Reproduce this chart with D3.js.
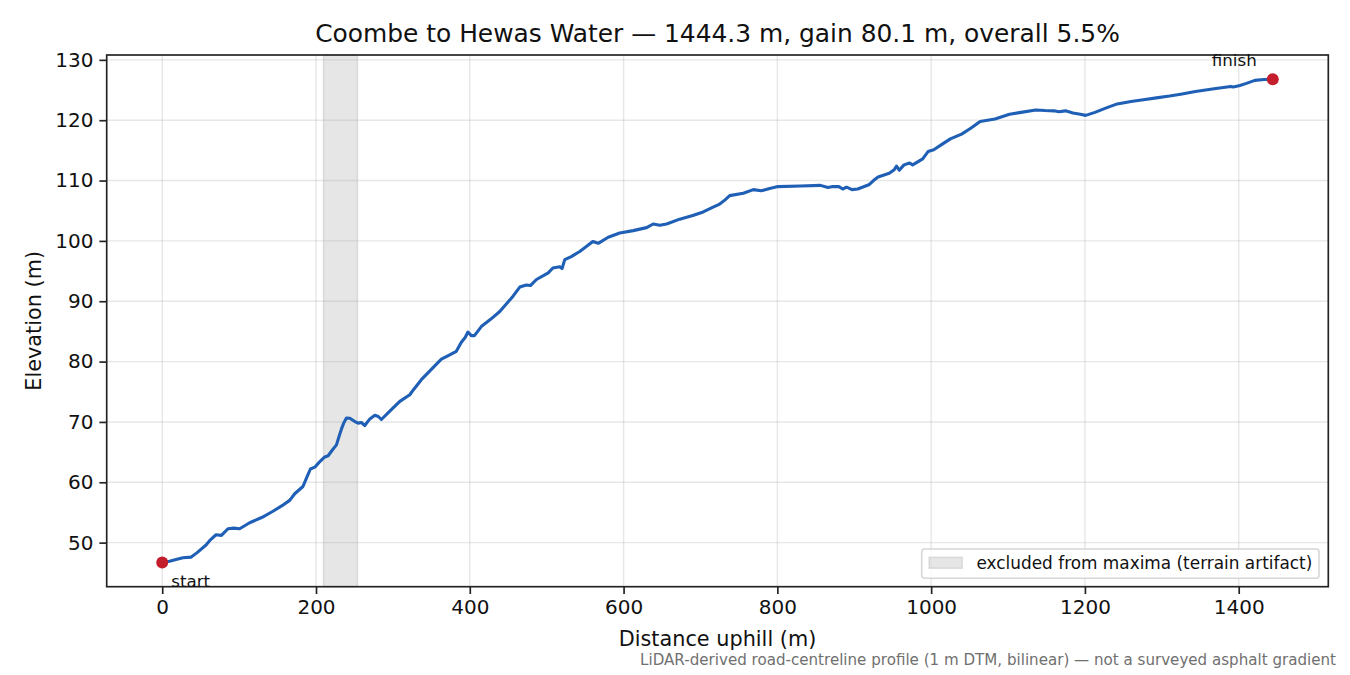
<!DOCTYPE html>
<html>
<head>
<meta charset="utf-8">
<script src="https://cdn.jsdelivr.net/npm/d3@7"></script>
<style>
  html, body { margin: 0; padding: 0; background: #fff; }
  svg { display: block; font-family: "DejaVu Sans", sans-serif; }
</style>
</head>
<body>
<svg id="chart" width="1350" height="675"></svg>
<script>
// ---- data ----
const distance = [0, 9.5, 18, 27, 37.7, 45, 57, 63, 70, 77, 85.5, 93, 100.7, 113.7, 130, 144, 158, 165.8, 172.3, 183, 188, 192.7, 198.4, 204, 211.4, 215.8, 221, 226.6, 230, 233, 236, 239.6, 244, 250, 254.8, 259, 263.5, 267, 270, 276.5, 281, 285, 297, 309, 322, 326.5, 337, 350, 363, 372, 382.5, 389, 394, 397.6, 402, 406, 415, 427, 439, 450, 456, 465, 473.6, 478.8, 486.7, 502, 508, 517, 520, 523.5, 532, 543, 552, 560, 567, 580, 595, 612.5, 630, 638.5, 647, 656, 673, 690, 703.6, 715, 725, 732, 738, 755.7, 768.8, 779, 790, 800.7, 830, 856, 865.8, 872, 880, 885, 890, 897, 904.5, 919, 925, 931, 945.5, 952, 955, 958.5, 964.7, 972, 976, 989, 996, 1003.4, 1014, 1025, 1039.6, 1052, 1063.7, 1083, 1102, 1117, 1136, 1148, 1160, 1166, 1174.7, 1184.4, 1194, 1201, 1213, 1227, 1242, 1260, 1276, 1293, 1310, 1324.5, 1343.7, 1368, 1389.6, 1393, 1401.6, 1410, 1421, 1433, 1444.3];
const elevation = [46.7, 46.9, 47.2, 47.5, 47.6, 48.3, 49.6, 50.5, 51.3, 51.2, 52.3, 52.4, 52.3, 53.3, 54.2, 55.2, 56.3, 57.0, 58.1, 59.3, 60.8, 62.2, 62.5, 63.3, 64.2, 64.4, 65.3, 66.2, 67.6, 68.8, 69.8, 70.65, 70.6, 70.1, 69.8, 69.9, 69.4, 70.0, 70.5, 71.1, 70.9, 70.4, 71.9, 73.4, 74.5, 75.3, 77.0, 78.7, 80.4, 81.0, 81.7, 83.2, 84.0, 84.9, 84.3, 84.3, 85.8, 87.0, 88.3, 89.9, 90.8, 92.35, 92.7, 92.6, 93.6, 94.7, 95.5, 95.7, 95.4, 96.9, 97.4, 98.25, 99.1, 99.9, 99.6, 100.6, 101.3, 101.7, 102.2, 102.8, 102.6, 102.8, 103.6, 104.2, 104.8, 105.5, 106.1, 106.8, 107.5, 107.9, 108.5, 108.3, 108.7, 109.0, 109.1, 109.2, 108.85, 109.0, 109.0, 108.6, 108.9, 108.5, 108.6, 109.3, 110.0, 110.6, 111.2, 111.8, 112.4, 111.7, 112.6, 112.9, 112.6, 113.6, 114.8, 115.1, 116.0, 116.9, 117.7, 118.7, 119.8, 120.2, 121.0, 121.3, 121.7, 121.6, 121.55, 121.4, 121.55, 121.2, 121.0, 120.8, 121.3, 122.0, 122.7, 123.1, 123.4, 123.7, 124.0, 124.3, 124.75, 125.2, 125.6, 125.5, 125.75, 126.1, 126.6, 126.75, 126.8];
const excludedRange = [209.7, 254.0];
const xTicks = [0, 200, 400, 600, 800, 1000, 1200, 1400];
const yTicks = [50, 60, 70, 80, 90, 100, 110, 120, 130];
const titleText = "Coombe to Hewas Water — 1444.3 m, gain 80.1 m, overall 5.5%";
const xLabel = "Distance uphill (m)";
const yLabel = "Elevation (m)";
const legendLabel = "excluded from maxima (terrain artifact)";
const footnote = "LiDAR-derived road-centreline profile (1 m DTM, bilinear) — not a surveyed asphalt gradient";
const startLabel = "start", finishLabel = "finish";

// ---- layout ----
const L = 106.7, R = 1328.3, T = 55, B = 586.7;
const svg = d3.select("#chart");

const points = distance.map((d, i) => ({ d, e: elevation[i] }));
const xMin = d3.min(distance), xMax = d3.max(distance);
const yMin = d3.min(elevation), yMax = d3.max(elevation);
const xm = (xMax - xMin) * 0.05, ym = (yMax - yMin) * 0.05;
const x = d3.scaleLinear().domain([xMin - xm, xMax + xm]).range([L, R]);
const y = d3.scaleLinear().domain([yMin - ym, yMax + ym]).range([B, T]);

// clip
svg.append("defs").append("clipPath").attr("id", "clip")
  .append("rect").attr("x", L).attr("y", T).attr("width", R - L).attr("height", B - T);

// excluded band
svg.append("rect")
  .attr("x", x(excludedRange[0])).attr("y", T)
  .attr("width", x(excludedRange[1]) - x(excludedRange[0])).attr("height", B - T)
  .attr("fill", "#808080").attr("fill-opacity", 0.2)
  .attr("stroke", "#808080").attr("stroke-opacity", 0.2).attr("stroke-width", 1.5);

// grid
const grid = svg.append("g").attr("stroke", "#b0b0b0").attr("stroke-opacity", 0.3).attr("stroke-width", 1.4);
grid.selectAll("line.gx").data(xTicks).join("line")
  .attr("x1", d => x(d)).attr("x2", d => x(d)).attr("y1", T).attr("y2", B);
grid.selectAll("line.gy").data(yTicks).join("line")
  .attr("y1", d => y(d)).attr("y2", d => y(d)).attr("x1", L).attr("x2", R);

// profile line
const line = d3.line().x(p => x(p.d)).y(p => y(p.e));
svg.append("path").datum(points)
  .attr("clip-path", "url(#clip)")
  .attr("d", line).attr("fill", "none")
  .attr("stroke", "#1f5fb5").attr("stroke-width", 3.1).attr("stroke-linejoin", "round").attr("stroke-linecap", "round");

// endpoints
const ends = [points[0], points[points.length - 1]];
svg.selectAll("circle.end").data(ends).join("circle")
  .attr("cx", p => x(p.d)).attr("cy", p => y(p.e)).attr("r", 6)
  .attr("fill", "#c41e2c");

// axes
const xAxis = d3.axisBottom(x).tickValues(xTicks).tickSize(7.3).tickPadding(6).tickFormat(d3.format("d"));
const yAxis = d3.axisLeft(y).tickValues(yTicks).tickSize(7.3).tickPadding(6).tickFormat(d3.format("d"));
const gx = svg.append("g").attr("transform", `translate(0,${B})`).call(xAxis);
const gy = svg.append("g").attr("transform", `translate(${L},0)`).call(yAxis);
[gx, gy].forEach(g => {
  g.select(".domain").remove();
  g.selectAll(".tick line").attr("stroke", "#222").attr("stroke-width", 1.67);
  g.selectAll(".tick text").attr("fill", "#111").style("font-family", "DejaVu Sans").style("font-size", "20px");
});

// frame
svg.append("rect").attr("x", L).attr("y", T).attr("width", R - L).attr("height", B - T)
  .attr("fill", "none").attr("stroke", "#222").attr("stroke-width", 1.67);

// annotations
svg.append("text").attr("x", x(ends[0].d) + 9).attr("y", y(ends[0].e) + 24)
  .attr("font-size", 16.7).attr("fill", "#111").text(startLabel);
svg.append("text").attr("x", x(ends[1].d) - 16).attr("y", y(ends[1].e) - 13)
  .attr("text-anchor", "end").attr("font-size", 16.7).attr("fill", "#111").text(finishLabel);

// title and labels
svg.append("text").attr("x", (L + R) / 2).attr("y", 42).attr("text-anchor", "middle")
  .attr("font-size", 24.9).attr("fill", "#111").text(titleText);
svg.append("text").attr("x", (L + R) / 2).attr("y", 646).attr("text-anchor", "middle")
  .attr("font-size", 20.8).attr("fill", "#111").text(xLabel);
svg.append("text").attr("transform", `translate(41,${(T + B) / 2}) rotate(-90)`).attr("text-anchor", "middle")
  .attr("font-size", 20.8).attr("fill", "#111").text(yLabel);

// legend
const lg = svg.append("g");
lg.append("rect").attr("x", 921.7).attr("y", 549).attr("width", 397.3).attr("height", 29.3).attr("rx", 3)
  .attr("fill", "#fff").attr("fill-opacity", 0.8).attr("stroke", "#d6d6d6").attr("stroke-width", 1.6);
lg.append("rect").attr("x", 929).attr("y", 557.3).attr("width", 33.3).attr("height", 11)
  .attr("fill", "#808080").attr("fill-opacity", 0.2)
  .attr("stroke", "#808080").attr("stroke-opacity", 0.2).attr("stroke-width", 1.5);
lg.append("text").attr("x", 976.5).attr("y", 568.5).attr("font-size", 16.9).attr("fill", "#111").text(legendLabel);

// footnote
svg.append("text").attr("x", 1336).attr("y", 665).attr("text-anchor", "end")
  .attr("font-size", 15.1).attr("fill", "#707070").text(footnote);
</script>
</body>
</html>
